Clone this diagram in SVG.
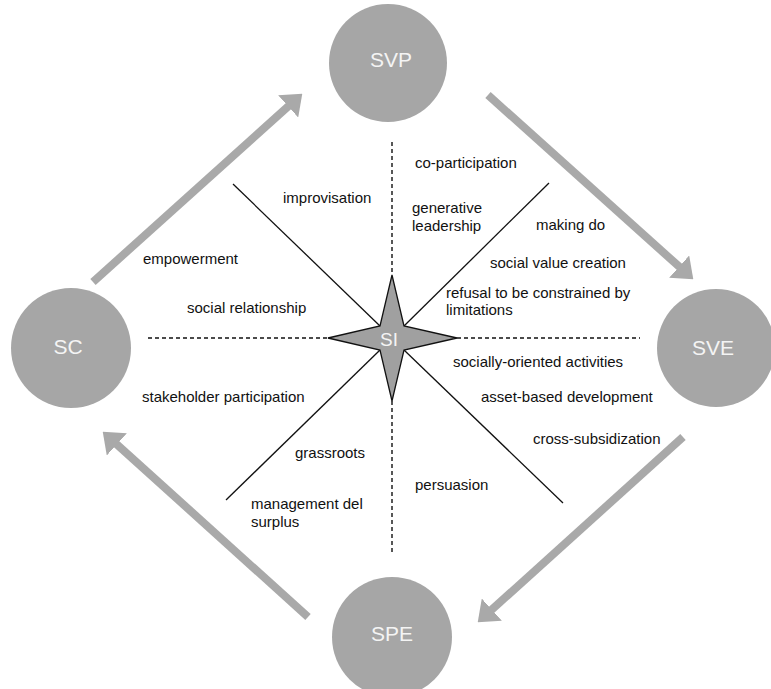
<svg xmlns="http://www.w3.org/2000/svg" width="771" height="689" viewBox="0 0 771 689">
<style>
.node{fill:#a6a6a6}
.nl{font-family:"Liberation Sans",Arial,sans-serif;font-size:21px;fill:#f4f4f4;text-anchor:middle}
.t{font-family:"Liberation Sans",Arial,sans-serif;font-size:15px;fill:#111}
.arrow{stroke:#a9a9a9;stroke-width:8;fill:none}
.dash{stroke:#111;stroke-width:1.4;stroke-dasharray:4 3;fill:none}
.solid{stroke:#111;stroke-width:1.3;fill:none}
</style>
<defs>
<marker id="ah" markerUnits="userSpaceOnUse" viewBox="0 0 19 30" refX="1" refY="15" markerWidth="19" markerHeight="30" orient="auto">
<path d="M0,0 L19,15 L0,30 z" fill="#a9a9a9"/>
</marker>
</defs>
<rect width="771" height="689" fill="#fff"/>
<g id="connectors">
<line class="arrow" x1="93" y1="282" x2="288.9" y2="105.7" marker-end="url(#ah)"/>
<line class="arrow" x1="488" y1="95" x2="679.9" y2="267.3" marker-end="url(#ah)"/>
<line class="arrow" x1="683" y1="437" x2="491.1" y2="610.3" marker-end="url(#ah)"/>
<line class="arrow" x1="308" y1="617" x2="116.1" y2="443.7" marker-end="url(#ah)"/>
<line class="dash" x1="392" y1="142" x2="392" y2="275"/>
<line class="dash" x1="392" y1="401" x2="392" y2="553"/>
<line class="dash" x1="148" y1="338" x2="328" y2="338"/>
<line class="dash" x1="457" y1="338" x2="640" y2="338"/>
<line class="solid" x1="233" y1="184" x2="380" y2="326"/>
<line class="solid" x1="549" y1="183" x2="404" y2="326"/>
<line class="solid" x1="563" y1="503" x2="404" y2="350"/>
<line class="solid" x1="226" y1="500" x2="380" y2="350"/>
</g>
<g id="SVP"><circle class="node" cx="388" cy="63" r="59"/><text class="nl" x="391" y="67">SVP</text></g>
<g id="SVE"><circle class="node" cx="716" cy="348" r="59"/><text class="nl" x="713" y="355">SVE</text></g>
<g id="SPE"><circle class="node" cx="392" cy="637" r="60"/><text class="nl" x="392" y="641">SPE</text></g>
<g id="SC"><circle class="node" cx="71" cy="348" r="60"/><text class="nl" x="68" y="354">SC</text></g>
<g id="SI">
<path d="M392,275 L404,326 L457,338 L404,350 L392,401 L380,350 L328,338 L380,326 Z" fill="#a0a0a0" stroke="#111" stroke-width="1.3" stroke-linejoin="miter"/>
<text x="389" y="346" font-family="Liberation Sans, Arial, sans-serif" font-size="19" fill="#f4f4f4" text-anchor="middle">SI</text>
</g>
<g id="labels">
<text class="t" x="415" y="168">co-participation</text>
<text class="t" x="412" y="213">generative</text>
<text class="t" x="412" y="231">leadership</text>
<text class="t" x="283" y="203">improvisation</text>
<text class="t" x="536" y="230">making do</text>
<text class="t" x="143" y="264">empowerment</text>
<text class="t" x="490" y="268">social value creation</text>
<text class="t" x="446" y="298">refusal to be constrained by</text>
<text class="t" x="446" y="315">limitations</text>
<text class="t" x="187" y="313">social relationship</text>
<text class="t" x="453" y="367">socially-oriented activities</text>
<text class="t" x="142" y="402">stakeholder participation</text>
<text class="t" x="481" y="402">asset-based development</text>
<text class="t" x="533" y="444">cross-subsidization</text>
<text class="t" x="295" y="458">grassroots</text>
<text class="t" x="415" y="490">persuasion</text>
<text class="t" x="251" y="509">management del</text>
<text class="t" x="251" y="527">surplus</text>
</g>
</svg>
